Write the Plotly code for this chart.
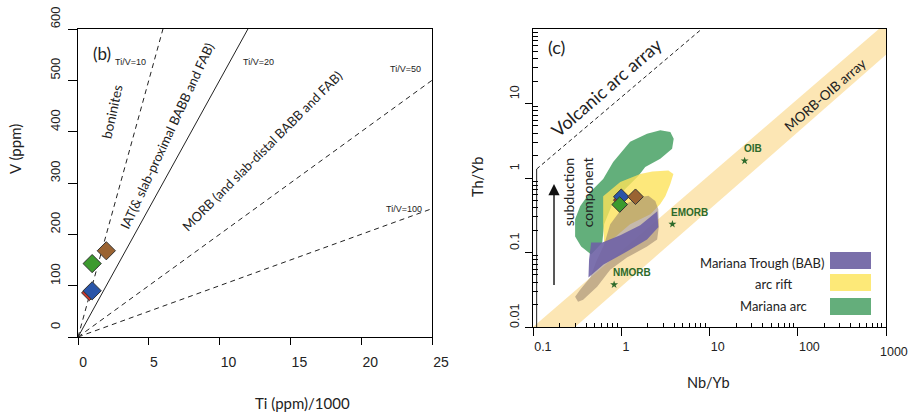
import numpy as np
import plotly.graph_objects as go

W, H = 912, 415

# ---------------- panel (b) data ----------------
TI_RANGE = [0, 25]
V_RANGE = [0, 600]
ti_ticks = [0, 5, 10, 15, 20, 25]
v_ticks = [0, 100, 200, 300, 400, 500, 600]
ti_v_ratios = [10, 20, 50, 100]
ti_v_solid = [False, True, False, False]
ti_v_labels = ["Ti/V=10", "Ti/V=20", "Ti/V=50", "Ti/V=100"]

# samples: red, blue, green, brown
sample_colors = ["#c8342c", "#2a55a8", "#3c9a2e", "#9a6332"]
sample_ti = [0.8, 1.0, 1.0, 2.0]
sample_v = [86, 90, 143, 168]
sample_nbyb = [0.89, 1.0, 0.96, 1.45]
sample_thyb = [0.505, 0.56, 0.44, 0.56]
size_left = [12, 14, 14, 14]
size_right = [5, 12, 12, 12]

# ---------------- panel (c) data ----------------
nb_ticks = [0.1, 1, 10, 100, 1000]
nb_ticktext = ["0.1", "1", "10", "100", "1000"]
th_ticks = [0.01, 0.1, 1, 10]
th_ticktext = ["0.01", "0.1", "1", "10"]

band_nb = [0.1, 0.3, 1000, 1000, 830]
band_th = [0.01, 0.01, 45, 100, 100]

arc_nb = [0.11, 8.0]
arc_th = [1.32, 98]
arc_foot_nb = [0.11, 0.11]
arc_foot_th = [0.01, 1.32]

ref_names = ["NMORB", "EMORB", "OIB"]
ref_nb = [0.83, 3.8, 25]
ref_th = [0.037, 0.24, 1.7]

arrow_nb = 0.173
arrow_th = [0.035, 0.83]

arc_nb_poly = [1.96, 2.77, 3.6, 3.93, 3.77, 2.77, 1.87, 1.56, 1.11, 0.79, 0.64, 0.61,
               0.456, 0.351, 0.30, 0.30, 0.342, 0.445, 0.624, 0.81, 1.26]
arc_th_poly = [3.93, 4.39, 4.15, 3.37, 2.47, 1.81, 1.40, 1.06, 0.71, 0.445, 0.239, 0.136,
               0.094, 0.12, 0.164, 0.279, 0.419, 0.647, 0.97, 1.64, 3.06]

rift_nb_poly = [0.624, 0.975, 1.64, 2.25, 3.42, 3.9, 3.6, 3.16, 2.77, 2.14, 1.26, 0.79, 0.64, 0.624]
rift_th_poly = [0.571, 0.883, 1.13, 1.22, 1.26, 1.13, 0.83, 0.571, 0.446, 0.327, 0.239, 0.15, 0.132, 0.239]

grey_nb_poly = [1.64, 2.03, 2.43, 2.63, 2.67, 2.55, 1.96, 1.16, 0.75, 0.533, 0.37, 0.324,
                0.30, 0.342, 0.445, 0.52, 0.64, 0.75, 1.11]
grey_th_poly = [0.553, 0.577, 0.493, 0.381, 0.224, 0.15, 0.12, 0.0855, 0.0589, 0.0347, 0.0232,
                0.0218, 0.0254, 0.0316, 0.046, 0.0755, 0.128, 0.239, 0.446]

bab_nb_poly = [0.456, 0.61, 0.975, 1.64, 2.56, 2.63, 1.96, 1.16, 0.63, 0.425, 0.432]
bab_th_poly = [0.136, 0.136, 0.17, 0.232, 0.358, 0.218, 0.15, 0.103, 0.0689, 0.046, 0.0803]

legend_names = ["Mariana Trough (BAB)", "arc rift", "Mariana arc"]
legend_colors = ["#7a6faa", "#fde978", "#64ae7b"]

fig = go.Figure()

# ---------- panel (b) ----------
for r, solid in zip(ti_v_ratios, ti_v_solid):
    x_end = min(TI_RANGE[1], V_RANGE[1] * r / 1000)
    fig.add_trace(go.Scatter(
        x=[0, x_end], y=[0, 1000 * x_end / r], mode="lines",
        line=dict(color="#222", width=1, dash="solid" if solid else "5px,4px"),
        xaxis="x", yaxis="y", showlegend=False, hoverinfo="skip"))

for c, x, y, s in zip(sample_colors, sample_ti, sample_v, size_left):
    fig.add_trace(go.Scatter(
        x=[x], y=[y], mode="markers",
        marker=dict(symbol="diamond", size=s, color=c, line=dict(color="#333", width=1)),
        xaxis="x", yaxis="y", showlegend=False))

# ---------- panel (c) ----------
fig.add_trace(go.Scatter(x=band_nb, y=band_th, fill="toself", fillcolor="#fce6b4",
                         mode="lines", line=dict(width=0), xaxis="x2", yaxis="y2",
                         showlegend=False, hoverinfo="skip"))
fig.add_trace(go.Scatter(x=arc_nb_poly, y=arc_th_poly, fill="toself",
                         fillcolor="rgba(60,155,90,0.8)", mode="lines", line=dict(width=0),
                         xaxis="x2", yaxis="y2", showlegend=False, name="Mariana arc"))
fig.add_trace(go.Scatter(x=rift_nb_poly, y=rift_th_poly, fill="toself",
                         fillcolor="rgba(252,226,90,0.8)", mode="lines", line=dict(width=0),
                         xaxis="x2", yaxis="y2", showlegend=False, name="arc rift"))
fig.add_trace(go.Scatter(x=grey_nb_poly, y=grey_th_poly, fill="toself",
                         fillcolor="rgba(150,128,105,0.55)", mode="lines", line=dict(width=0),
                         xaxis="x2", yaxis="y2", showlegend=False, hoverinfo="skip"))
fig.add_trace(go.Scatter(x=bab_nb_poly, y=bab_th_poly, fill="toself",
                         fillcolor="rgba(110,98,165,0.9)", mode="lines", line=dict(width=0),
                         xaxis="x2", yaxis="y2", showlegend=False, name="Mariana Trough (BAB)"))

fig.add_trace(go.Scatter(x=arc_nb, y=arc_th, mode="lines",
                         line=dict(color="#222", width=1, dash="4px,3px"),
                         xaxis="x2", yaxis="y2", showlegend=False, hoverinfo="skip"))
fig.add_trace(go.Scatter(x=arc_foot_nb, y=arc_foot_th, mode="lines",
                         line=dict(color="#222", width=1),
                         xaxis="x2", yaxis="y2", showlegend=False, hoverinfo="skip"))

fig.add_trace(go.Scatter(x=ref_nb, y=ref_th, mode="markers",
                         marker=dict(symbol="star", size=6, color="#2d6a2a"),
                         xaxis="x2", yaxis="y2", showlegend=False))

for c, x, y, s in zip(sample_colors, sample_nbyb, sample_thyb, size_right):
    fig.add_trace(go.Scatter(
        x=[x], y=[y], mode="markers",
        marker=dict(symbol="diamond", size=s, color=c, line=dict(color="#333", width=1)),
        xaxis="x2", yaxis="y2", showlegend=False))


def P(x, y):
    return x / W, 1 - y / H


ann = []


def txt(text, x, y, size=13, angle=0, family="Lato", color="#222", xanchor="center"):
    px, py = P(x, y)
    ann.append(dict(text=text, x=px, y=py, xref="paper", yref="paper",
                    showarrow=False, textangle=angle, xanchor=xanchor, yanchor="middle",
                    font=dict(family=family, size=size, color=color)))


# panel b texts
txt("(b)", 101.7, 53.3, size=17)
txt("boninites", 112, 112, size=13.5, angle=-78)
txt("IAT(&amp; slab-proximal BABB and FAB)", 166.7, 135.7, size=13, angle=-65)
txt("MORB (and slab-distal BABB and FAB)", 261.7, 150.7, size=13, angle=-45)
for lab, (lx, ly) in zip(ti_v_labels, [(130, 62), (258, 62), (405, 69), (404, 209)]):
    txt(lab, lx, ly, size=9, family="Liberation Sans")
txt("V (ppm)", 15, 149, size=15, angle=-90)
txt("Ti (ppm)/1000", 302, 403, size=15)

# panel c texts
txt("(c)", 556.7, 47.5, size=18)
txt("Volcanic arc array", 606.7, 87.3, size=18, angle=-41)
txt("MORB-OIB array", 825, 95, size=13.5, angle=-41)
txt("subduction", 568.3, 192, size=14, angle=-90)
txt("component", 587.3, 192, size=14, angle=-90)
txt("Th/Yb", 477, 177, size=14.5, angle=-90)
txt("Nb/Yb", 708, 382, size=14.5)
# last log tick label sits at the paper edge
txt("1000", 910, 352, size=12.5, family="Liberation Sans", xanchor="right")

for name, x, y in zip(ref_names, ref_nb, ref_th):
    ann.append(dict(text=f"<b>{name}</b>", x=np.log10(x), y=np.log10(y), xref="x2", yref="y2",
                    showarrow=False, xanchor="left", yanchor="middle", xshift=-3, yshift=12,
                    font=dict(family="Liberation Sans", size=10, color="#2d6a2a")))

ann.append(dict(text="", xref="x2", yref="y2", axref="x2", ayref="y2",
                x=np.log10(arrow_nb), y=np.log10(arrow_th[1]),
                ax=np.log10(arrow_nb), ay=np.log10(arrow_th[0]),
                showarrow=True, arrowhead=2, arrowsize=1.6, arrowwidth=1.4, arrowcolor="#111"))

# legend
legend_rows = [(263, 826, "right"), (284, 773, "center"), (306, 773.5, "center")]
shapes = []
sw_y = [(252, 269), (274, 291), (298, 315)]
for name, col, (ly, lx, anc), (y0, y1) in zip(legend_names, legend_colors, legend_rows, sw_y):
    txt(name, lx, ly, size=13, xanchor=anc)
    x0p, y0p = P(830, y0)
    x1p, y1p = P(871, y1)
    shapes.append(dict(type="rect", xref="paper", yref="paper", x0=x0p, x1=x1p, y0=y1p, y1=y0p,
                       fillcolor=col, line=dict(width=0), layer="above"))

axis_common = dict(showline=True, linecolor="black", linewidth=1.2, mirror=True,
                   showgrid=False, zeroline=False, tickcolor="black", tickwidth=1.2,
                   fixedrange=True, automargin=False)

minor_x = [m * 10.0 ** e for e in range(-1, 3) for m in range(2, 10)]
minor_y = [m * 10.0 ** e for e in range(-2, 2) for m in range(2, 10)]

fig.update_layout(
    template="none",
    width=W, height=H, margin=dict(l=0, r=0, t=0, b=0, pad=0),
    paper_bgcolor="white", plot_bgcolor="white",
    font=dict(family="Liberation Sans", color="#222"),
    xaxis=dict(domain=[78 / W, 432 / W], range=TI_RANGE, tickvals=ti_ticks, ticks="outside",
               ticklen=7, ticklabelposition="outside right", ticklabelstandoff=12,
               tickfont=dict(size=14), anchor="y", **axis_common),
    yaxis=dict(domain=[(H - 337) / H, (H - 29) / H], range=V_RANGE, tickvals=v_ticks,
               ticks="outside", ticklen=9, tickangle=-90, ticklabelposition="outside top",
               ticklabelstandoff=12, tickfont=dict(size=13), anchor="x", **axis_common),
    xaxis2=dict(domain=[533 / W, 886 / W], type="log", range=[-1, 3], tickvals=nb_ticks,
                ticktext=nb_ticktext, ticks="outside", ticklen=8,
                ticklabelposition="outside right", ticklabelstandoff=8,
                tickfont=dict(size=12.5),
                minor=dict(ticks="inside", ticklen=4, tickvals=minor_x, tickcolor="black",
                           tickwidth=1, showgrid=False),
                anchor="y2", **axis_common),
    yaxis2=dict(domain=[(H - 327) / H, (H - 29) / H], type="log", range=[-2, 2],
                tickvals=th_ticks, ticktext=th_ticktext, ticks="outside", ticklen=7,
                tickangle=-90, ticklabelposition="outside top", ticklabelstandoff=8,
                tickfont=dict(size=12.5),
                minor=dict(ticks="inside", ticklen=5, tickvals=minor_y, tickcolor="black",
                           tickwidth=1, showgrid=False),
                anchor="x2", **axis_common),
    annotations=ann, shapes=shapes, showlegend=False,
)

fig.write_html("out.html", config={"displayModeBar": False},
               post_script="document.body.style.margin='0px';document.body.style.overflow='hidden';")
